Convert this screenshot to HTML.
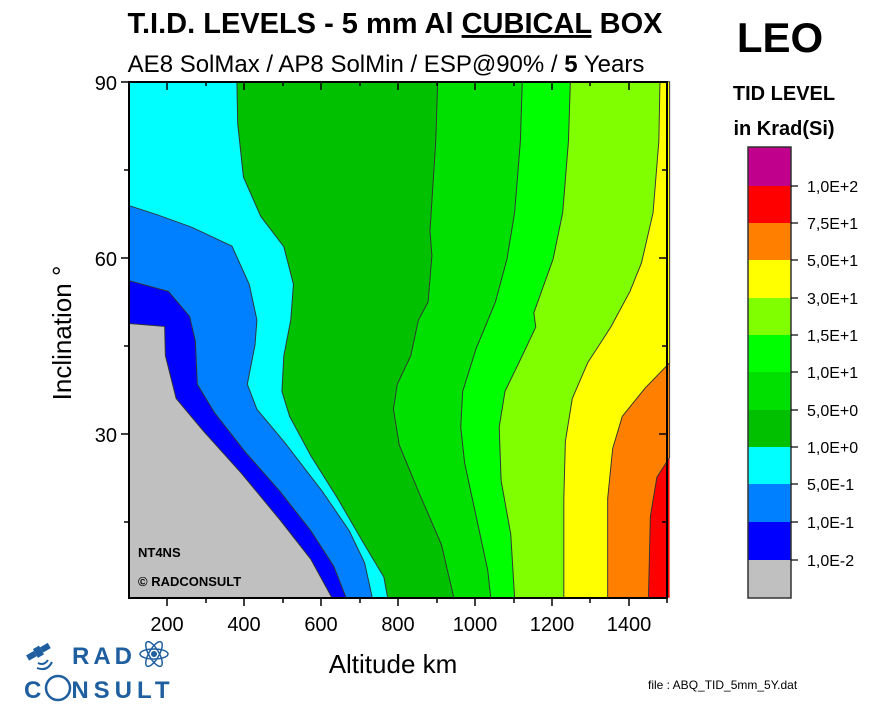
<!DOCTYPE html>
<html><head><meta charset="utf-8"><style>
body{margin:0;background:#fff;width:895px;height:720px;overflow:hidden;font-family:"Liberation Sans",sans-serif}
</style></head><body>
<svg width="895" height="720" viewBox="0 0 895 720" xmlns="http://www.w3.org/2000/svg" font-family="Liberation Sans, sans-serif">
<text x="395" y="33" font-size="29" font-weight="bold" text-anchor="middle">T.I.D. LEVELS - 5 mm Al <tspan text-decoration="underline">CUBICAL</tspan> BOX</text>
<text x="386" y="72" font-size="24" text-anchor="middle">AE8 SolMax / AP8 SolMin / ESP@90% / <tspan font-weight="bold">5</tspan> Years</text>
<g transform="translate(80,70) scale(0.3846,0.3571)" stroke="#333" stroke-width="2.5">
<rect x="128" y="33" width="1405" height="1445" fill="#ff0000" stroke="none"/>
<polygon fill="#ff8000" points="128,33 1533,33 1533,1085 1500,1140 1483,1250 1478,1478 128,1478"/>
<polygon fill="#ffff00" points="128,33 1533,33 1533,820 1470,890 1410,970 1385,1060 1372,1200 1372,1478 128,1478"/>
<polygon fill="#80ff00" points="128,33 1508,33 1505,200 1490,400 1460,540 1430,620 1380,720 1320,820 1280,920 1262,1040 1258,1200 1258,1478 128,1478"/>
<polygon fill="#00ff00" points="128,33 1275,33 1270,200 1255,400 1230,530 1200,620 1180,680 1185,720 1150,800 1105,900 1090,1000 1095,1150 1120,1300 1130,1478 128,1478"/>
<polygon fill="#00e000" points="128,33 1150,33 1145,200 1130,400 1110,530 1080,650 1030,780 995,900 990,1000 1000,1100 1030,1250 1060,1400 1068,1478 128,1478"/>
<polygon fill="#00c000" points="128,33 930,33 925,200 910,450 915,520 905,650 880,700 860,800 825,880 815,950 830,1050 880,1180 940,1330 972,1478 128,1478"/>
<polygon fill="#00ffff" points="128,33 408,33 410,150 425,300 470,410 530,495 555,600 548,700 530,800 525,900 545,970 600,1080 670,1200 740,1330 790,1420 800,1478 128,1478"/>
<polygon fill="#0080ff" points="128,380 200,405 290,440 395,493 440,600 460,700 455,770 435,880 460,950 530,1040 630,1180 700,1290 740,1380 760,1478 128,1478"/>
<polygon fill="#0000ff" points="128,590 230,620 285,690 300,760 305,880 350,960 430,1070 520,1180 600,1290 660,1390 692,1478 128,1478"/>
<polygon fill="#c0c0c0" points="128,710 220,718 222,800 250,920 320,1010 420,1130 520,1260 600,1370 655,1478 128,1478"/>
</g>
<rect x="129" y="82" width="538" height="516" fill="none" stroke="#000" stroke-width="2"/>
<g stroke="#000" stroke-width="1.5">
<line x1="167" y1="598" x2="167" y2="606"/><line x1="244" y1="598" x2="244" y2="606"/><line x1="321" y1="598" x2="321" y2="606"/><line x1="398" y1="598" x2="398" y2="606"/><line x1="475" y1="598" x2="475" y2="606"/><line x1="552" y1="598" x2="552" y2="606"/><line x1="629" y1="598" x2="629" y2="606"/>
<line x1="206" y1="598" x2="206" y2="603"/><line x1="283" y1="598" x2="283" y2="603"/><line x1="360" y1="598" x2="360" y2="603"/><line x1="437" y1="598" x2="437" y2="603"/><line x1="514" y1="598" x2="514" y2="603"/><line x1="590" y1="598" x2="590" y2="603"/><line x1="667" y1="598" x2="667" y2="603"/>
<line x1="167" y1="82" x2="167" y2="90"/><line x1="244" y1="82" x2="244" y2="90"/><line x1="321" y1="82" x2="321" y2="90"/><line x1="398" y1="82" x2="398" y2="90"/><line x1="475" y1="82" x2="475" y2="90"/><line x1="552" y1="82" x2="552" y2="90"/><line x1="629" y1="82" x2="629" y2="90"/>
<line x1="206" y1="82" x2="206" y2="86"/><line x1="283" y1="82" x2="283" y2="86"/><line x1="360" y1="82" x2="360" y2="86"/><line x1="437" y1="82" x2="437" y2="86"/><line x1="514" y1="82" x2="514" y2="86"/><line x1="590" y1="82" x2="590" y2="86"/>
<line x1="121" y1="82" x2="129" y2="82"/><line x1="121" y1="258" x2="129" y2="258"/><line x1="121" y1="434" x2="129" y2="434"/>
<line x1="124" y1="170" x2="129" y2="170"/><line x1="124" y1="346" x2="129" y2="346"/><line x1="124" y1="522" x2="129" y2="522"/>
<line x1="659" y1="258" x2="667" y2="258"/><line x1="659" y1="434" x2="667" y2="434"/><line x1="662" y1="170" x2="667" y2="170"/><line x1="662" y1="346" x2="667" y2="346"/><line x1="662" y1="522" x2="667" y2="522"/>
</g>
<g font-size="20" text-anchor="middle">
<text x="167" y="631">200</text><text x="244" y="631">400</text><text x="321" y="631">600</text><text x="398" y="631">800</text><text x="475" y="631">1000</text><text x="552" y="631">1200</text><text x="629" y="631">1400</text>
</g>
<g font-size="20" text-anchor="end">
<text x="117" y="90">90</text><text x="117" y="266">60</text><text x="117" y="442">30</text>
</g>
<text x="393" y="673" font-size="26" text-anchor="middle">Altitude km</text>
<text transform="translate(71,333) rotate(-90)" font-size="26" text-anchor="middle">Inclination °</text>
<text x="138" y="557" font-size="13" font-weight="bold">NT4NS</text>
<text x="138" y="586" font-size="13" font-weight="bold">© RADCONSULT</text>
<text x="780" y="52" font-size="42" font-weight="bold" text-anchor="middle">LEO</text>
<text x="784" y="100" font-size="20" font-weight="bold" text-anchor="middle">TID LEVEL</text>
<text x="784" y="135" font-size="20" font-weight="bold" text-anchor="middle">in Krad(Si)</text>
<g stroke="none">
<rect x="748" y="147" width="43" height="39" fill="#c0008c"/>
<rect x="748" y="186" width="43" height="37" fill="#ff0000"/>
<rect x="748" y="223" width="43" height="37" fill="#ff8000"/>
<rect x="748" y="260" width="43" height="38" fill="#ffff00"/>
<rect x="748" y="298" width="43" height="37" fill="#80ff00"/>
<rect x="748" y="335" width="43" height="37" fill="#00ff00"/>
<rect x="748" y="372" width="43" height="38" fill="#00e000"/>
<rect x="748" y="410" width="43" height="37" fill="#00c000"/>
<rect x="748" y="447" width="43" height="37" fill="#00ffff"/>
<rect x="748" y="484" width="43" height="38" fill="#0080ff"/>
<rect x="748" y="522" width="43" height="38" fill="#0000ff"/>
<rect x="748" y="560" width="43" height="38" fill="#c0c0c0"/>
</g>
<rect x="748" y="147" width="43" height="451" fill="none" stroke="#333" stroke-width="1.5"/>
<g stroke="#000" stroke-width="1.2">
<line x1="791" y1="186" x2="798" y2="186"/><line x1="791" y1="223" x2="798" y2="223"/><line x1="791" y1="260" x2="798" y2="260"/><line x1="791" y1="298" x2="798" y2="298"/><line x1="791" y1="335" x2="798" y2="335"/><line x1="791" y1="372" x2="798" y2="372"/><line x1="791" y1="410" x2="798" y2="410"/><line x1="791" y1="447" x2="798" y2="447"/><line x1="791" y1="484" x2="798" y2="484"/><line x1="791" y1="522" x2="798" y2="522"/><line x1="791" y1="560" x2="798" y2="560"/>
</g>
<g font-size="16">
<text x="807" y="192">1,0E+2</text><text x="807" y="229">7,5E+1</text><text x="807" y="266">5,0E+1</text><text x="807" y="304">3,0E+1</text><text x="807" y="341">1,5E+1</text><text x="807" y="378">1,0E+1</text><text x="807" y="416">5,0E+0</text><text x="807" y="453">1,0E+0</text><text x="807" y="490">5,0E-1</text><text x="807" y="528">1,0E-1</text><text x="807" y="566">1,0E-2</text>
</g>
<text x="648" y="689" font-size="12">file : ABQ_TID_5mm_5Y.dat</text>
<g fill="#1f5fa0" stroke="#1f5fa0">
<g transform="translate(38,652) rotate(-30)"><rect x="-12" y="-3" width="9" height="6" stroke="none"/><rect x="-3" y="-5" width="7" height="10" stroke="none"/><rect x="4" y="-3" width="9" height="6" stroke="none"/></g>
<path d="M38,663 q6,3 10,-3 M37,668 q10,4 15,-6" fill="none" stroke-width="2"/>
<circle cx="154" cy="654" r="3" stroke="none"/>
<g fill="none" stroke-width="1.5"><ellipse cx="154" cy="654" rx="14" ry="5"/><ellipse cx="154" cy="654" rx="14" ry="5" transform="rotate(60 154 654)"/><ellipse cx="154" cy="654" rx="14" ry="5" transform="rotate(-60 154 654)"/></g>
<circle cx="58" cy="688" r="12" fill="none" stroke-width="2.5"/>
</g>
<text x="72" y="664" font-size="24" font-weight="bold" fill="#1f5fa0" letter-spacing="4">RAD</text>
<text x="24" y="698" font-size="24" font-weight="bold" fill="#1f5fa0" letter-spacing="5">C<tspan dx="25">NSULT</tspan></text>
</svg>
</body></html>
